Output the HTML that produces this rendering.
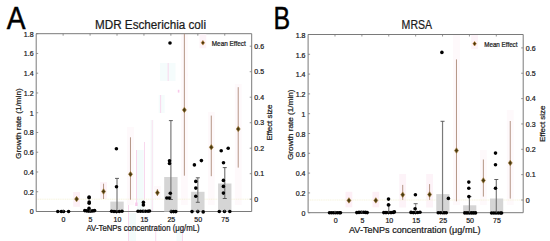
<!DOCTYPE html>
<html><head><meta charset="utf-8"><style>
html,body{margin:0;padding:0;background:#fff;}
body{width:550px;height:241px;overflow:hidden;}
svg{display:block;font-family:"Liberation Sans", sans-serif;}
text{stroke:#1a1a1a;stroke-width:0.22px;}
text.big{stroke:#000;stroke-width:0.45px;}
</style></head><body>
<svg width="550" height="241" viewBox="0 0 550 241">
<rect width="550" height="241" fill="#fff"/>
<rect x="128.00" y="205.00" width="0.9" height="36.00" fill="#f9d4ec"/>
<rect x="129.00" y="213.00" width="7" height="28.00" fill="#f3fbfb"/>
<rect x="137.00" y="150.00" width="6.7" height="61.00" fill="#f3fbfb"/>
<rect x="136.00" y="150.00" width="0.9" height="55.00" fill="#f9d0ea"/>
<rect x="135.20" y="202.50" width="2.4" height="3.50" fill="#f9c8ea"/>
<rect x="144.00" y="142.00" width="0.9" height="58.00" fill="#f9d4ec"/>
<rect x="150.50" y="120.00" width="3" height="91.00" fill="#f5fbfb"/>
<rect x="151.80" y="120.00" width="0.9" height="91.00" fill="#fbe0f0"/>
<rect x="155.30" y="226.00" width="0.9" height="15.00" fill="#f9d4ec"/>
<rect x="158.70" y="95.00" width="6" height="18.00" fill="#f5fcfc"/>
<rect x="160.20" y="95.00" width="0.9" height="18.00" fill="#f9d4ec"/>
<rect x="160.00" y="63.00" width="15.5" height="18.00" fill="#f5fcfc"/>
<rect x="167.70" y="63.00" width="0.9" height="18.00" fill="#f9d4ec"/>
<rect x="176.50" y="226.00" width="5.5" height="15.00" fill="#f3fbfb"/>
<rect x="182.00" y="226.00" width="0.9" height="15.00" fill="#f9d4ec"/>
<rect x="177.80" y="89.80" width="1.6" height="2.80" fill="#f9c8ea"/>
<rect x="185.80" y="73.50" width="1.6" height="2.80" fill="#fad8ee"/>
<rect x="73.21" y="192.00" width="6.8" height="14.80" fill="#fdeff6"/>
<rect x="100.14" y="182.00" width="6.8" height="17.00" fill="#fdf3f8"/>
<rect x="127.08" y="127.00" width="6.8" height="78.00" fill="#fef9fb"/>
<rect x="154.02" y="186.00" width="6.8" height="13.00" fill="#fef9fb"/>
<rect x="180.96" y="33.70" width="6.8" height="171.30" fill="#fef9fb"/>
<rect x="207.89" y="112.00" width="6.8" height="93.00" fill="#fef9fb"/>
<rect x="234.83" y="84.00" width="6.8" height="121.00" fill="#fef9fb"/>
<line x1="36.20" y1="199.20" x2="251.70" y2="199.20" stroke="#f5f1d6" stroke-width="0.8" stroke-dasharray="1.2 0.6"/>
<path d="M36.20 33.70 H251.70 V211.50 H36.20 Z" fill="none" stroke="#7a7a7a" stroke-width="1"/>
<rect x="110.31" y="201.60" width="13.40" height="9.90" fill="#d5d5d5"/>
<rect x="164.19" y="177.00" width="13.40" height="34.50" fill="#d5d5d5"/>
<rect x="191.12" y="191.80" width="13.40" height="19.70" fill="#d5d5d5"/>
<rect x="218.06" y="183.50" width="13.40" height="28.00" fill="#d5d5d5"/>
<line x1="117.01" y1="178.40" x2="117.01" y2="209.50" stroke="#7a7a7a" stroke-width="1.2"/>
<line x1="115.01" y1="178.40" x2="119.01" y2="178.40" stroke="#505050" stroke-width="0.9"/>
<line x1="170.89" y1="120.60" x2="170.89" y2="199.50" stroke="#7a7a7a" stroke-width="1.2"/>
<line x1="168.89" y1="120.60" x2="172.89" y2="120.60" stroke="#505050" stroke-width="0.9"/>
<line x1="168.89" y1="199.50" x2="172.89" y2="199.50" stroke="#505050" stroke-width="0.9"/>
<line x1="197.82" y1="177.80" x2="197.82" y2="202.30" stroke="#7a7a7a" stroke-width="1.2"/>
<line x1="195.82" y1="177.80" x2="199.82" y2="177.80" stroke="#505050" stroke-width="0.9"/>
<line x1="195.82" y1="202.30" x2="199.82" y2="202.30" stroke="#505050" stroke-width="0.9"/>
<line x1="224.76" y1="167.60" x2="224.76" y2="198.50" stroke="#7a7a7a" stroke-width="1.2"/>
<line x1="222.76" y1="167.60" x2="226.76" y2="167.60" stroke="#505050" stroke-width="0.9"/>
<line x1="222.76" y1="198.50" x2="226.76" y2="198.50" stroke="#505050" stroke-width="0.9"/>
<line x1="76.61" y1="197.50" x2="76.61" y2="201.00" stroke="#ad8a78" stroke-width="0.9"/>
<line x1="103.54" y1="183.70" x2="103.54" y2="199.00" stroke="#ad8a78" stroke-width="0.9"/>
<line x1="130.48" y1="137.30" x2="130.48" y2="199.70" stroke="#ad8a78" stroke-width="0.9"/>
<line x1="157.42" y1="189.00" x2="157.42" y2="196.00" stroke="#ad8a78" stroke-width="0.9"/>
<line x1="184.36" y1="33.70" x2="184.36" y2="175.70" stroke="#ad8a78" stroke-width="0.9"/>
<line x1="211.29" y1="115.60" x2="211.29" y2="176.20" stroke="#ad8a78" stroke-width="0.9"/>
<line x1="238.23" y1="87.20" x2="238.23" y2="167.60" stroke="#ad8a78" stroke-width="0.9"/>
<circle cx="57.80" cy="211.50" r="1.8" fill="#000"/>
<circle cx="61.30" cy="211.50" r="1.8" fill="#000"/>
<circle cx="63.60" cy="211.50" r="1.8" fill="#000"/>
<circle cx="68.60" cy="211.50" r="1.8" fill="#000"/>
<circle cx="89.10" cy="197.00" r="1.8" fill="#000"/>
<circle cx="89.10" cy="197.80" r="1.8" fill="#000"/>
<circle cx="89.20" cy="202.00" r="1.8" fill="#000"/>
<circle cx="89.20" cy="203.20" r="1.8" fill="#000"/>
<circle cx="89.00" cy="208.40" r="1.8" fill="#000"/>
<circle cx="84.80" cy="210.60" r="1.8" fill="#000"/>
<circle cx="86.80" cy="210.90" r="1.8" fill="#000"/>
<circle cx="88.80" cy="211.10" r="1.8" fill="#000"/>
<circle cx="90.80" cy="211.10" r="1.8" fill="#000"/>
<circle cx="92.80" cy="210.90" r="1.8" fill="#000"/>
<circle cx="94.60" cy="210.60" r="1.8" fill="#000"/>
<circle cx="116.40" cy="148.70" r="1.8" fill="#000"/>
<circle cx="116.50" cy="186.80" r="1.8" fill="#000"/>
<circle cx="111.60" cy="211.30" r="1.8" fill="#000"/>
<circle cx="114.00" cy="211.50" r="1.8" fill="#000"/>
<circle cx="116.50" cy="211.60" r="1.8" fill="#000"/>
<circle cx="119.30" cy="211.50" r="1.8" fill="#000"/>
<circle cx="122.00" cy="211.30" r="1.8" fill="#000"/>
<circle cx="143.40" cy="202.40" r="1.8" fill="#000"/>
<circle cx="143.40" cy="205.00" r="1.8" fill="#000"/>
<circle cx="138.00" cy="211.20" r="1.8" fill="#000"/>
<circle cx="140.50" cy="211.20" r="1.8" fill="#000"/>
<circle cx="143.00" cy="211.20" r="1.8" fill="#000"/>
<circle cx="145.50" cy="211.20" r="1.8" fill="#000"/>
<circle cx="148.00" cy="211.20" r="1.8" fill="#000"/>
<circle cx="149.50" cy="211.00" r="1.8" fill="#000"/>
<circle cx="170.00" cy="43.00" r="1.8" fill="#000"/>
<circle cx="169.50" cy="160.80" r="1.8" fill="#000"/>
<circle cx="169.50" cy="163.50" r="1.8" fill="#000"/>
<circle cx="170.30" cy="193.20" r="1.8" fill="#000"/>
<circle cx="166.80" cy="198.00" r="1.8" fill="#000"/>
<circle cx="169.20" cy="198.00" r="1.8" fill="#000"/>
<circle cx="171.30" cy="211.60" r="1.8" fill="#000"/>
<circle cx="173.60" cy="211.60" r="1.8" fill="#000"/>
<circle cx="175.80" cy="211.60" r="1.8" fill="#000"/>
<circle cx="194.40" cy="164.90" r="1.8" fill="#000"/>
<circle cx="201.40" cy="160.60" r="1.8" fill="#000"/>
<circle cx="195.80" cy="181.40" r="1.8" fill="#000"/>
<circle cx="195.80" cy="188.10" r="1.8" fill="#000"/>
<circle cx="195.80" cy="196.20" r="1.8" fill="#000"/>
<circle cx="192.00" cy="211.60" r="1.8" fill="#000"/>
<circle cx="197.80" cy="211.60" r="1.8" fill="#000"/>
<circle cx="203.20" cy="211.90" r="1.8" fill="#000"/>
<circle cx="221.20" cy="150.80" r="1.8" fill="#000"/>
<circle cx="228.20" cy="148.30" r="1.8" fill="#000"/>
<circle cx="223.50" cy="162.70" r="1.8" fill="#000"/>
<circle cx="223.40" cy="180.40" r="1.8" fill="#000"/>
<circle cx="223.40" cy="186.40" r="1.8" fill="#000"/>
<circle cx="223.40" cy="193.10" r="1.8" fill="#000"/>
<circle cx="219.30" cy="211.50" r="1.8" fill="#000"/>
<circle cx="224.50" cy="211.50" r="1.8" fill="#000"/>
<circle cx="229.80" cy="211.50" r="1.8" fill="#000"/>
<path d="M76.61 196.35 L78.61 199.10 L76.61 201.85 L74.61 199.10Z" fill="#4a3a10" stroke="#a8823a" stroke-width="0.6"/>
<path d="M103.54 188.75 L105.54 191.50 L103.54 194.25 L101.54 191.50Z" fill="#4a3a10" stroke="#a8823a" stroke-width="0.6"/>
<path d="M130.48 171.45 L132.48 174.20 L130.48 176.95 L128.48 174.20Z" fill="#4a3a10" stroke="#a8823a" stroke-width="0.6"/>
<path d="M157.42 189.95 L159.42 192.70 L157.42 195.45 L155.42 192.70Z" fill="#4a3a10" stroke="#a8823a" stroke-width="0.6"/>
<path d="M184.36 107.15 L186.36 109.90 L184.36 112.65 L182.36 109.90Z" fill="#4a3a10" stroke="#a8823a" stroke-width="0.6"/>
<path d="M211.29 144.45 L213.29 147.20 L211.29 149.95 L209.29 147.20Z" fill="#4a3a10" stroke="#a8823a" stroke-width="0.6"/>
<path d="M238.23 126.25 L240.23 129.00 L238.23 131.75 L236.23 129.00Z" fill="#4a3a10" stroke="#a8823a" stroke-width="0.6"/>
<line x1="36.20" y1="211.50" x2="38.20" y2="211.50" stroke="#7a7a7a" stroke-width="0.8"/>
<text x="33.60" y="214.40" font-size="7" text-anchor="end" fill="#1a1a1a">0</text>
<line x1="36.20" y1="191.74" x2="38.20" y2="191.74" stroke="#7a7a7a" stroke-width="0.8"/>
<text x="33.60" y="194.64" font-size="7" text-anchor="end" fill="#1a1a1a">0.2</text>
<line x1="36.20" y1="171.99" x2="38.20" y2="171.99" stroke="#7a7a7a" stroke-width="0.8"/>
<text x="33.60" y="174.89" font-size="7" text-anchor="end" fill="#1a1a1a">0.4</text>
<line x1="36.20" y1="152.23" x2="38.20" y2="152.23" stroke="#7a7a7a" stroke-width="0.8"/>
<text x="33.60" y="155.13" font-size="7" text-anchor="end" fill="#1a1a1a">0.6</text>
<line x1="36.20" y1="132.48" x2="38.20" y2="132.48" stroke="#7a7a7a" stroke-width="0.8"/>
<text x="33.60" y="135.38" font-size="7" text-anchor="end" fill="#1a1a1a">0.8</text>
<line x1="36.20" y1="112.72" x2="38.20" y2="112.72" stroke="#7a7a7a" stroke-width="0.8"/>
<text x="33.60" y="115.62" font-size="7" text-anchor="end" fill="#1a1a1a">1</text>
<line x1="36.20" y1="92.97" x2="38.20" y2="92.97" stroke="#7a7a7a" stroke-width="0.8"/>
<text x="33.60" y="95.87" font-size="7" text-anchor="end" fill="#1a1a1a">1.2</text>
<line x1="36.20" y1="73.21" x2="38.20" y2="73.21" stroke="#7a7a7a" stroke-width="0.8"/>
<text x="33.60" y="76.11" font-size="7" text-anchor="end" fill="#1a1a1a">1.4</text>
<line x1="36.20" y1="53.46" x2="38.20" y2="53.46" stroke="#7a7a7a" stroke-width="0.8"/>
<text x="33.60" y="56.36" font-size="7" text-anchor="end" fill="#1a1a1a">1.6</text>
<line x1="36.20" y1="33.70" x2="38.20" y2="33.70" stroke="#7a7a7a" stroke-width="0.8"/>
<text x="33.60" y="36.60" font-size="7" text-anchor="end" fill="#1a1a1a">1.8</text>
<line x1="251.70" y1="199.20" x2="249.70" y2="199.20" stroke="#7a7a7a" stroke-width="0.8"/>
<text x="254.30" y="201.50" font-size="7" fill="#1a1a1a">0</text>
<line x1="251.70" y1="173.70" x2="249.70" y2="173.70" stroke="#7a7a7a" stroke-width="0.8"/>
<text x="254.30" y="176.00" font-size="7" fill="#1a1a1a">0.1</text>
<line x1="251.70" y1="148.20" x2="249.70" y2="148.20" stroke="#7a7a7a" stroke-width="0.8"/>
<text x="254.30" y="150.50" font-size="7" fill="#1a1a1a">0.2</text>
<line x1="251.70" y1="122.70" x2="249.70" y2="122.70" stroke="#7a7a7a" stroke-width="0.8"/>
<text x="254.30" y="125.00" font-size="7" fill="#1a1a1a">0.3</text>
<line x1="251.70" y1="97.20" x2="249.70" y2="97.20" stroke="#7a7a7a" stroke-width="0.8"/>
<text x="254.30" y="99.50" font-size="7" fill="#1a1a1a">0.4</text>
<line x1="251.70" y1="71.70" x2="249.70" y2="71.70" stroke="#7a7a7a" stroke-width="0.8"/>
<text x="254.30" y="74.00" font-size="7" fill="#1a1a1a">0.5</text>
<line x1="251.70" y1="46.20" x2="249.70" y2="46.20" stroke="#7a7a7a" stroke-width="0.8"/>
<text x="254.30" y="48.50" font-size="7" fill="#1a1a1a">0.6</text>
<line x1="63.14" y1="33.70" x2="63.14" y2="35.70" stroke="#7a7a7a" stroke-width="0.8"/>
<line x1="63.14" y1="211.50" x2="63.14" y2="209.50" stroke="#7a7a7a" stroke-width="0.8"/>
<text x="63.54" y="221.50" font-size="7" text-anchor="middle" fill="#1a1a1a">0</text>
<line x1="90.08" y1="33.70" x2="90.08" y2="35.70" stroke="#7a7a7a" stroke-width="0.8"/>
<line x1="90.08" y1="211.50" x2="90.08" y2="209.50" stroke="#7a7a7a" stroke-width="0.8"/>
<text x="90.48" y="221.50" font-size="7" text-anchor="middle" fill="#1a1a1a">5</text>
<line x1="117.01" y1="33.70" x2="117.01" y2="35.70" stroke="#7a7a7a" stroke-width="0.8"/>
<line x1="117.01" y1="211.50" x2="117.01" y2="209.50" stroke="#7a7a7a" stroke-width="0.8"/>
<text x="117.41" y="221.50" font-size="7" text-anchor="middle" fill="#1a1a1a">10</text>
<line x1="143.95" y1="33.70" x2="143.95" y2="35.70" stroke="#7a7a7a" stroke-width="0.8"/>
<line x1="143.95" y1="211.50" x2="143.95" y2="209.50" stroke="#7a7a7a" stroke-width="0.8"/>
<text x="144.35" y="221.50" font-size="7" text-anchor="middle" fill="#1a1a1a">15</text>
<line x1="170.89" y1="33.70" x2="170.89" y2="35.70" stroke="#7a7a7a" stroke-width="0.8"/>
<line x1="170.89" y1="211.50" x2="170.89" y2="209.50" stroke="#7a7a7a" stroke-width="0.8"/>
<text x="171.29" y="221.50" font-size="7" text-anchor="middle" fill="#1a1a1a">25</text>
<line x1="197.82" y1="33.70" x2="197.82" y2="35.70" stroke="#7a7a7a" stroke-width="0.8"/>
<line x1="197.82" y1="211.50" x2="197.82" y2="209.50" stroke="#7a7a7a" stroke-width="0.8"/>
<text x="198.22" y="221.50" font-size="7" text-anchor="middle" fill="#1a1a1a">50</text>
<line x1="224.76" y1="33.70" x2="224.76" y2="35.70" stroke="#7a7a7a" stroke-width="0.8"/>
<line x1="224.76" y1="211.50" x2="224.76" y2="209.50" stroke="#7a7a7a" stroke-width="0.8"/>
<text x="225.16" y="221.50" font-size="7" text-anchor="middle" fill="#1a1a1a">75</text>
<text x="86.50" y="230.50" font-size="8.3" textLength="113.2" lengthAdjust="spacingAndGlyphs" fill="#1a1a1a">AV-TeNPs concentration (μg/mL)</text>
<text transform="translate(20.60,158.90) rotate(-90)" font-size="7.6" textLength="70.6" lengthAdjust="spacingAndGlyphs" fill="#1a1a1a">Growth rate (1/min)</text>
<text transform="translate(272.40,140.60) rotate(-90)" font-size="7.0" textLength="36.0" lengthAdjust="spacingAndGlyphs" fill="#1a1a1a">Effect size</text>
<rect x="199.50" y="34.20" width="6.8" height="14.10" fill="#fdf3f8"/>
<path d="M202.90 40.50 L204.65 42.80 L202.90 45.10 L201.15 42.80Z" fill="#4a3408" stroke="#c88a40" stroke-width="0.6"/>
<text x="211.80" y="45.80" font-size="6.5" textLength="33.9" lengthAdjust="spacingAndGlyphs" fill="#1a1a1a">Mean Effect</text>
<text x="95.00" y="29.10" font-size="12" textLength="111" lengthAdjust="spacingAndGlyphs" fill="#1a1a1a">MDR Escherichia coli</text>
<text x="6.80" y="28.80" font-size="30.5" textLength="18.8" lengthAdjust="spacingAndGlyphs" fill="#000" class="big">A</text>
<rect x="345.53" y="191.80" width="6.8" height="15.50" fill="#fdeff6"/>
<rect x="372.42" y="191.80" width="6.8" height="15.50" fill="#fdeff6"/>
<rect x="399.31" y="174.00" width="6.8" height="33.50" fill="#fdf3f8"/>
<rect x="426.19" y="174.00" width="6.8" height="33.50" fill="#fdf3f8"/>
<rect x="453.08" y="34.50" width="6.8" height="170.50" fill="#fef9fb"/>
<rect x="479.97" y="150.00" width="6.8" height="55.00" fill="#fef9fb"/>
<rect x="506.86" y="110.00" width="6.8" height="95.00" fill="#fef9fb"/>
<line x1="308.10" y1="200.00" x2="523.20" y2="200.00" stroke="#f5f1d6" stroke-width="0.8" stroke-dasharray="1.2 0.6"/>
<path d="M308.10 34.50 H523.20 V212.70 H308.10 Z" fill="none" stroke="#7a7a7a" stroke-width="1"/>
<rect x="436.24" y="194.10" width="13.20" height="18.60" fill="#d5d5d5"/>
<rect x="463.13" y="205.30" width="13.20" height="7.40" fill="#d5d5d5"/>
<rect x="490.01" y="198.50" width="13.20" height="14.20" fill="#d5d5d5"/>
<line x1="388.76" y1="204.90" x2="388.76" y2="212.70" stroke="#7a7a7a" stroke-width="1.2"/>
<line x1="386.76" y1="204.90" x2="390.76" y2="204.90" stroke="#505050" stroke-width="0.9"/>
<line x1="415.65" y1="203.70" x2="415.65" y2="212.70" stroke="#999" stroke-width="1.2"/>
<line x1="413.65" y1="203.70" x2="417.65" y2="203.70" stroke="#505050" stroke-width="0.9"/>
<line x1="442.54" y1="121.30" x2="442.54" y2="212.70" stroke="#7a7a7a" stroke-width="1.2"/>
<line x1="440.54" y1="121.30" x2="444.54" y2="121.30" stroke="#505050" stroke-width="0.9"/>
<line x1="469.43" y1="196.60" x2="469.43" y2="212.70" stroke="#7a7a7a" stroke-width="1.2"/>
<line x1="467.43" y1="196.60" x2="471.43" y2="196.60" stroke="#505050" stroke-width="0.9"/>
<line x1="496.31" y1="179.50" x2="496.31" y2="212.70" stroke="#7a7a7a" stroke-width="1.2"/>
<line x1="494.31" y1="179.50" x2="498.31" y2="179.50" stroke="#505050" stroke-width="0.9"/>
<line x1="348.93" y1="198.80" x2="348.93" y2="202.00" stroke="#ad8a78" stroke-width="0.9"/>
<line x1="375.82" y1="198.80" x2="375.82" y2="202.00" stroke="#ad8a78" stroke-width="0.9"/>
<line x1="402.71" y1="184.90" x2="402.71" y2="199.90" stroke="#ad8a78" stroke-width="0.9"/>
<line x1="429.59" y1="184.10" x2="429.59" y2="199.90" stroke="#ad8a78" stroke-width="0.9"/>
<line x1="456.48" y1="59.40" x2="456.48" y2="201.30" stroke="#ad8a78" stroke-width="0.9"/>
<line x1="483.37" y1="159.50" x2="483.37" y2="196.60" stroke="#ad8a78" stroke-width="0.9"/>
<line x1="510.26" y1="121.00" x2="510.26" y2="198.60" stroke="#ad8a78" stroke-width="0.9"/>
<circle cx="329.50" cy="212.70" r="1.8" fill="#000"/>
<circle cx="331.50" cy="212.70" r="1.8" fill="#000"/>
<circle cx="333.50" cy="212.70" r="1.8" fill="#000"/>
<circle cx="335.50" cy="212.70" r="1.8" fill="#000"/>
<circle cx="337.50" cy="212.70" r="1.8" fill="#000"/>
<circle cx="339.50" cy="212.70" r="1.8" fill="#000"/>
<circle cx="340.50" cy="212.70" r="1.8" fill="#000"/>
<circle cx="356.80" cy="212.60" r="1.8" fill="#000"/>
<circle cx="359.00" cy="212.40" r="1.8" fill="#000"/>
<circle cx="361.30" cy="212.20" r="1.8" fill="#000"/>
<circle cx="363.50" cy="212.20" r="1.8" fill="#000"/>
<circle cx="365.50" cy="212.40" r="1.8" fill="#000"/>
<circle cx="367.20" cy="212.60" r="1.8" fill="#000"/>
<circle cx="388.50" cy="199.10" r="1.8" fill="#000"/>
<circle cx="388.50" cy="204.90" r="1.8" fill="#000"/>
<circle cx="383.80" cy="212.60" r="1.8" fill="#000"/>
<circle cx="386.00" cy="212.60" r="1.8" fill="#000"/>
<circle cx="388.50" cy="212.60" r="1.8" fill="#000"/>
<circle cx="391.00" cy="212.60" r="1.8" fill="#000"/>
<circle cx="393.20" cy="212.40" r="1.8" fill="#000"/>
<circle cx="394.40" cy="211.90" r="1.8" fill="#000"/>
<circle cx="415.40" cy="194.70" r="1.8" fill="#000"/>
<circle cx="415.10" cy="208.70" r="1.8" fill="#000"/>
<circle cx="411.00" cy="212.40" r="1.8" fill="#000"/>
<circle cx="413.30" cy="212.60" r="1.8" fill="#000"/>
<circle cx="415.50" cy="212.60" r="1.8" fill="#000"/>
<circle cx="417.70" cy="212.50" r="1.8" fill="#000"/>
<circle cx="420.00" cy="212.30" r="1.8" fill="#000"/>
<circle cx="441.90" cy="52.40" r="1.8" fill="#000"/>
<circle cx="448.40" cy="198.40" r="1.8" fill="#000"/>
<circle cx="438.20" cy="212.70" r="1.8" fill="#000"/>
<circle cx="440.50" cy="212.70" r="1.8" fill="#000"/>
<circle cx="442.80" cy="212.70" r="1.8" fill="#000"/>
<circle cx="444.50" cy="212.70" r="1.8" fill="#000"/>
<circle cx="446.30" cy="212.70" r="1.8" fill="#000"/>
<circle cx="468.80" cy="182.10" r="1.8" fill="#000"/>
<circle cx="468.80" cy="188.30" r="1.8" fill="#000"/>
<circle cx="468.90" cy="196.60" r="1.8" fill="#000"/>
<circle cx="464.80" cy="212.90" r="1.8" fill="#000"/>
<circle cx="467.00" cy="212.90" r="1.8" fill="#000"/>
<circle cx="469.30" cy="212.90" r="1.8" fill="#000"/>
<circle cx="471.50" cy="212.90" r="1.8" fill="#000"/>
<circle cx="473.50" cy="212.90" r="1.8" fill="#000"/>
<circle cx="475.50" cy="212.90" r="1.8" fill="#000"/>
<circle cx="495.50" cy="153.10" r="1.8" fill="#000"/>
<circle cx="495.50" cy="164.80" r="1.8" fill="#000"/>
<circle cx="495.50" cy="188.30" r="1.8" fill="#000"/>
<circle cx="491.60" cy="213.00" r="1.8" fill="#000"/>
<circle cx="493.80" cy="213.00" r="1.8" fill="#000"/>
<circle cx="496.00" cy="213.00" r="1.8" fill="#000"/>
<circle cx="498.30" cy="213.00" r="1.8" fill="#000"/>
<circle cx="500.50" cy="213.00" r="1.8" fill="#000"/>
<circle cx="501.60" cy="213.00" r="1.8" fill="#000"/>
<path d="M348.93 197.65 L350.93 200.40 L348.93 203.15 L346.93 200.40Z" fill="#4a3a10" stroke="#a8823a" stroke-width="0.6"/>
<path d="M375.82 197.65 L377.82 200.40 L375.82 203.15 L373.82 200.40Z" fill="#4a3a10" stroke="#a8823a" stroke-width="0.6"/>
<path d="M402.71 191.95 L404.71 194.70 L402.71 197.45 L400.71 194.70Z" fill="#4a3a10" stroke="#a8823a" stroke-width="0.6"/>
<path d="M429.59 191.75 L431.59 194.50 L429.59 197.25 L427.59 194.50Z" fill="#4a3a10" stroke="#a8823a" stroke-width="0.6"/>
<path d="M456.48 147.85 L458.48 150.60 L456.48 153.35 L454.48 150.60Z" fill="#4a3a10" stroke="#a8823a" stroke-width="0.6"/>
<path d="M483.37 177.65 L485.37 180.40 L483.37 183.15 L481.37 180.40Z" fill="#4a3a10" stroke="#a8823a" stroke-width="0.6"/>
<path d="M510.26 160.15 L512.26 162.90 L510.26 165.65 L508.26 162.90Z" fill="#4a3a10" stroke="#a8823a" stroke-width="0.6"/>
<line x1="308.10" y1="212.70" x2="310.10" y2="212.70" stroke="#7a7a7a" stroke-width="0.8"/>
<text x="305.50" y="215.90" font-size="7" text-anchor="end" fill="#1a1a1a">0</text>
<line x1="308.10" y1="192.90" x2="310.10" y2="192.90" stroke="#7a7a7a" stroke-width="0.8"/>
<text x="305.50" y="196.10" font-size="7" text-anchor="end" fill="#1a1a1a">0.2</text>
<line x1="308.10" y1="173.10" x2="310.10" y2="173.10" stroke="#7a7a7a" stroke-width="0.8"/>
<text x="305.50" y="176.30" font-size="7" text-anchor="end" fill="#1a1a1a">0.4</text>
<line x1="308.10" y1="153.30" x2="310.10" y2="153.30" stroke="#7a7a7a" stroke-width="0.8"/>
<text x="305.50" y="156.50" font-size="7" text-anchor="end" fill="#1a1a1a">0.6</text>
<line x1="308.10" y1="133.50" x2="310.10" y2="133.50" stroke="#7a7a7a" stroke-width="0.8"/>
<text x="305.50" y="136.70" font-size="7" text-anchor="end" fill="#1a1a1a">0.8</text>
<line x1="308.10" y1="113.70" x2="310.10" y2="113.70" stroke="#7a7a7a" stroke-width="0.8"/>
<text x="305.50" y="116.90" font-size="7" text-anchor="end" fill="#1a1a1a">1</text>
<line x1="308.10" y1="93.90" x2="310.10" y2="93.90" stroke="#7a7a7a" stroke-width="0.8"/>
<text x="305.50" y="97.10" font-size="7" text-anchor="end" fill="#1a1a1a">1.2</text>
<line x1="308.10" y1="74.10" x2="310.10" y2="74.10" stroke="#7a7a7a" stroke-width="0.8"/>
<text x="305.50" y="77.30" font-size="7" text-anchor="end" fill="#1a1a1a">1.4</text>
<line x1="308.10" y1="54.30" x2="310.10" y2="54.30" stroke="#7a7a7a" stroke-width="0.8"/>
<text x="305.50" y="57.50" font-size="7" text-anchor="end" fill="#1a1a1a">1.6</text>
<line x1="308.10" y1="34.50" x2="310.10" y2="34.50" stroke="#7a7a7a" stroke-width="0.8"/>
<text x="305.50" y="37.70" font-size="7" text-anchor="end" fill="#1a1a1a">1.8</text>
<line x1="523.20" y1="200.00" x2="521.20" y2="200.00" stroke="#7a7a7a" stroke-width="0.8"/>
<text x="525.80" y="202.70" font-size="7" fill="#1a1a1a">0</text>
<line x1="523.20" y1="174.65" x2="521.20" y2="174.65" stroke="#7a7a7a" stroke-width="0.8"/>
<text x="525.80" y="177.35" font-size="7" fill="#1a1a1a">0.1</text>
<line x1="523.20" y1="149.30" x2="521.20" y2="149.30" stroke="#7a7a7a" stroke-width="0.8"/>
<text x="525.80" y="152.00" font-size="7" fill="#1a1a1a">0.2</text>
<line x1="523.20" y1="123.95" x2="521.20" y2="123.95" stroke="#7a7a7a" stroke-width="0.8"/>
<text x="525.80" y="126.65" font-size="7" fill="#1a1a1a">0.3</text>
<line x1="523.20" y1="98.60" x2="521.20" y2="98.60" stroke="#7a7a7a" stroke-width="0.8"/>
<text x="525.80" y="101.30" font-size="7" fill="#1a1a1a">0.4</text>
<line x1="523.20" y1="73.25" x2="521.20" y2="73.25" stroke="#7a7a7a" stroke-width="0.8"/>
<text x="525.80" y="75.95" font-size="7" fill="#1a1a1a">0.5</text>
<line x1="523.20" y1="47.90" x2="521.20" y2="47.90" stroke="#7a7a7a" stroke-width="0.8"/>
<text x="525.80" y="50.60" font-size="7" fill="#1a1a1a">0.6</text>
<line x1="334.99" y1="34.50" x2="334.99" y2="36.50" stroke="#7a7a7a" stroke-width="0.8"/>
<line x1="334.99" y1="212.70" x2="334.99" y2="210.70" stroke="#7a7a7a" stroke-width="0.8"/>
<text x="335.59" y="222.60" font-size="7" text-anchor="middle" fill="#1a1a1a">0</text>
<line x1="361.88" y1="34.50" x2="361.88" y2="36.50" stroke="#7a7a7a" stroke-width="0.8"/>
<line x1="361.88" y1="212.70" x2="361.88" y2="210.70" stroke="#7a7a7a" stroke-width="0.8"/>
<text x="362.48" y="222.60" font-size="7" text-anchor="middle" fill="#1a1a1a">5</text>
<line x1="388.76" y1="34.50" x2="388.76" y2="36.50" stroke="#7a7a7a" stroke-width="0.8"/>
<line x1="388.76" y1="212.70" x2="388.76" y2="210.70" stroke="#7a7a7a" stroke-width="0.8"/>
<text x="389.36" y="222.60" font-size="7" text-anchor="middle" fill="#1a1a1a">10</text>
<line x1="415.65" y1="34.50" x2="415.65" y2="36.50" stroke="#7a7a7a" stroke-width="0.8"/>
<line x1="415.65" y1="212.70" x2="415.65" y2="210.70" stroke="#7a7a7a" stroke-width="0.8"/>
<text x="416.25" y="222.60" font-size="7" text-anchor="middle" fill="#1a1a1a">15</text>
<line x1="442.54" y1="34.50" x2="442.54" y2="36.50" stroke="#7a7a7a" stroke-width="0.8"/>
<line x1="442.54" y1="212.70" x2="442.54" y2="210.70" stroke="#7a7a7a" stroke-width="0.8"/>
<text x="443.14" y="222.60" font-size="7" text-anchor="middle" fill="#1a1a1a">25</text>
<line x1="469.43" y1="34.50" x2="469.43" y2="36.50" stroke="#7a7a7a" stroke-width="0.8"/>
<line x1="469.43" y1="212.70" x2="469.43" y2="210.70" stroke="#7a7a7a" stroke-width="0.8"/>
<text x="470.03" y="222.60" font-size="7" text-anchor="middle" fill="#1a1a1a">50</text>
<line x1="496.31" y1="34.50" x2="496.31" y2="36.50" stroke="#7a7a7a" stroke-width="0.8"/>
<line x1="496.31" y1="212.70" x2="496.31" y2="210.70" stroke="#7a7a7a" stroke-width="0.8"/>
<text x="496.91" y="222.60" font-size="7" text-anchor="middle" fill="#1a1a1a">75</text>
<text x="349.00" y="233.20" font-size="9.4" textLength="131.5" lengthAdjust="spacingAndGlyphs" fill="#1a1a1a">AV-TeNPs concentration (μg/mL)</text>
<text transform="translate(292.60,160.00) rotate(-90)" font-size="7.6" textLength="70.6" lengthAdjust="spacingAndGlyphs" fill="#1a1a1a">Growth rate (1/min)</text>
<text transform="translate(544.60,141.90) rotate(-90)" font-size="7.0" textLength="36.2" lengthAdjust="spacingAndGlyphs" fill="#1a1a1a">Effect size</text>
<rect x="471.20" y="35.00" width="6.8" height="14.20" fill="#fdf3f8"/>
<path d="M474.60 41.40 L476.35 43.70 L474.60 46.00 L472.85 43.70Z" fill="#4a3408" stroke="#c88a40" stroke-width="0.6"/>
<text x="484.20" y="46.50" font-size="6.5" textLength="33.3" lengthAdjust="spacingAndGlyphs" fill="#1a1a1a">Mean Effect</text>
<text x="401.60" y="29.20" font-size="12.5" textLength="30.5" lengthAdjust="spacingAndGlyphs" fill="#1a1a1a">MRSA</text>
<text x="273.60" y="28.90" font-size="30.5" textLength="16.6" lengthAdjust="spacingAndGlyphs" fill="#000" class="big">B</text>
</svg>
</body></html>
